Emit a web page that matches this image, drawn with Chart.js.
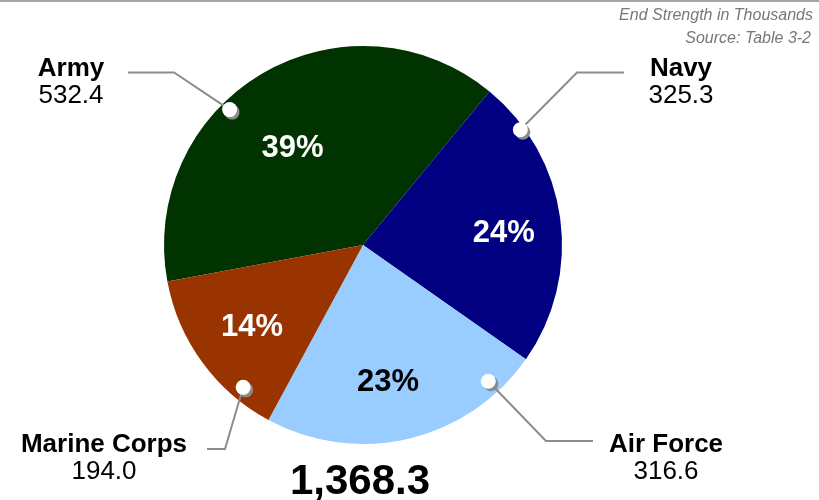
<!DOCTYPE html>
<html>
<head>
<meta charset="utf-8">
<script src="https://cdn.jsdelivr.net/npm/chart.js@4.4.0/dist/chart.umd.min.js"></script>
<style>
  body { margin: 0; background: #fff; }
  #wrap { width: 819px; height: 500px; position: relative; }
</style>
</head>
<body>
<div id="wrap"><canvas id="myChart" width="819" height="500"></canvas></div>
<script>
// end strength in thousands, clockwise from the Army slice
var services = ['Army', 'Navy', 'Air Force', 'Marine Corps'];
var strength = [532.4, 325.3, 316.6, 194.0];
var sliceColors = ['#003300', '#000080', '#99CCFF', '#993300'];
var pctColors = ['#ffffff', '#ffffff', '#000000', '#ffffff'];

var subtitle = 'End Strength in Thousands';
var sourceNote = 'Source: Table 3-2';

// where the pointer dot sits inside each slice (fraction of the sweep, fraction of radius)
var dotPlace = [[0.40, 0.955], [0.167, 0.98], [0.148, 0.93], [0.23, 0.935]];
// where the percent text sits inside each slice
var pctPlace = [[0.46, 0.60], [0.537, 0.71], [0.535, 0.70], [0.49, 0.695]];
// leader elbow, leader end, label centre x, name baseline
var callouts = [
  {elbow: [174, 72.5], end: 128, x: 71, y: 76},
  {elbow: [577, 72.5], end: 624, x: 681, y: 76},
  {elbow: [546, 441], end: 593, x: 666, y: 452},
  {elbow: [225, 449], end: 207, x: 104, y: 452}
];

var total = strength.reduce(function(a, b){ return a + b; }, 0);

function pointOnArc(arc, frac, rf){
  var a = arc.startAngle + (arc.endAngle - arc.startAngle) * frac;
  var r = arc.outerRadius * rf;
  return {x: arc.x + Math.cos(a) * r, y: arc.y + Math.sin(a) * r};
}

var decorations = {
  id: 'decorations',
  afterDraw: function(chart){
    var c = chart.ctx;
    var arcs = chart.getDatasetMeta(0).data;
    c.save();

    // rule along the top
    c.fillStyle = '#a6a6a6';
    c.fillRect(0, 0, 819, 2);

    // notes top right
    c.fillStyle = '#777777';
    c.font = 'italic 16px "Liberation Sans", Arial, sans-serif';
    c.textAlign = 'right';
    c.textBaseline = 'alphabetic';
    c.fillText(subtitle, 813, 20);
    c.fillText(sourceNote, 811, 43);

    arcs.forEach(function(arc, i){
      // percent text
      var p = pointOnArc(arc, pctPlace[i][0], pctPlace[i][1]);
      var pct = Math.round(strength[i] / total * 100) + '%';
      c.fillStyle = pctColors[i];
      c.font = 'bold 31px "Liberation Sans", Arial, sans-serif';
      c.textAlign = 'center';
      c.textBaseline = 'middle';
      c.fillText(pct, p.x, p.y);

      // leader line
      var d = pointOnArc(arc, dotPlace[i][0], dotPlace[i][1]);
      var co = callouts[i];
      c.strokeStyle = '#8c8c8c';
      c.lineWidth = 2;
      c.beginPath();
      c.moveTo(d.x, d.y);
      c.lineTo(co.elbow[0], co.elbow[1]);
      c.lineTo(co.end, co.elbow[1]);
      c.stroke();

      // dot with shadow
      c.fillStyle = '#8a8a8a';
      c.beginPath();
      c.arc(d.x + 2.5, d.y + 2.5, 7.5, 0, Math.PI * 2);
      c.fill();
      c.fillStyle = '#ffffff';
      c.beginPath();
      c.arc(d.x, d.y, 7.5, 0, Math.PI * 2);
      c.fill();

      // name and value
      c.fillStyle = '#000000';
      c.textBaseline = 'alphabetic';
      c.font = 'bold 26px "Liberation Sans", Arial, sans-serif';
      c.fillText(services[i], co.x, co.y);
      c.font = '26px "Liberation Sans", Arial, sans-serif';
      c.fillText(strength[i].toFixed(1), co.x, co.y + 27);
    });

    // grand total under the pie
    c.fillStyle = '#000000';
    c.font = 'bold 42px "Liberation Sans", Arial, sans-serif';
    c.textAlign = 'center';
    c.textBaseline = 'alphabetic';
    c.fillText(total.toLocaleString('en-US', {minimumFractionDigits: 1, maximumFractionDigits: 1}), 360, 494);

    c.restore();
  }
};

var ctx = document.getElementById('myChart');
var myChart = new Chart(ctx, {
  type: 'pie',
  data: {
    labels: services,
    datasets: [{
      data: strength,
      backgroundColor: sliceColors,
      borderWidth: 0
    }]
  },
  options: {
    responsive: false,
    animation: false,
    rotation: 259.4,
    layout: { padding: {top: 46, bottom: 56, left: 0, right: 93} },
    plugins: {
      legend: { display: false },
      tooltip: { enabled: false }
    }
  },
  plugins: [decorations]
});
</script>
</body>
</html>
